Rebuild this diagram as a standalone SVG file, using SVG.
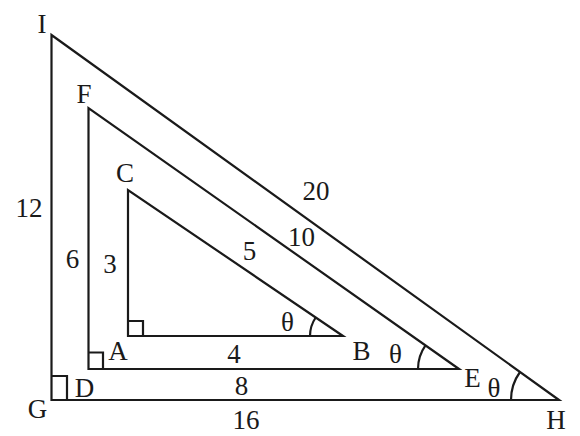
<svg xmlns="http://www.w3.org/2000/svg" width="580" height="436" viewBox="0 0 580 436">
<style>
.ln{fill:none;stroke:#1a1a1a;stroke-width:2.2;stroke-linejoin:miter}
.t{font-family:"Liberation Serif","Times New Roman",serif;font-size:27px;fill:#1a1a1a;text-anchor:middle}
</style>
<rect width="580" height="436" fill="#fff"/>
<g id="triangle-IGH">
<polygon class="ln" points="51.5,35 51.5,400 559,400"/>
<polyline class="ln" points="51.5,376 67,376 67,400"/>
<path class="ln" d="M511,400 A48,48 0 0 1 520,372"/>
<text class="t" x="42" y="33">I</text>
<text class="t" x="37.5" y="418">G</text>
<text class="t" x="556" y="429">H</text>
<text class="t" x="246" y="429">16</text>
<text class="t" x="29" y="217">12</text>
<text class="t" x="316" y="200">20</text>
<text class="t" x="494" y="397">θ</text>
</g>
<g id="triangle-FDE">
<polygon class="ln" points="88.5,108 88.5,369 459,369"/>
<polyline class="ln" points="88.5,352.5 103,352.5 103,369"/>
<path class="ln" d="M418,369 A41,41 0 0 1 425.5,345.4"/>
<text class="t" x="84" y="103">F</text>
<text class="t" x="84.5" y="397">D</text>
<text class="t" x="472.5" y="387">E</text>
<text class="t" x="72.5" y="268">6</text>
<text class="t" x="241.5" y="395">8</text>
<text class="t" x="301.5" y="246">10</text>
<text class="t" x="395.5" y="363">θ</text>
</g>
<g id="triangle-CAB">
<polygon class="ln" points="128,190 128,336 343,336"/>
<polyline class="ln" points="128,321 143,321 143,336"/>
<path class="ln" d="M310,336 A33,33 0 0 1 315.7,317.5"/>
<text class="t" x="125" y="182">C</text>
<text class="t" x="118" y="360">A</text>
<text class="t" x="361.5" y="360">B</text>
<text class="t" x="110" y="273">3</text>
<text class="t" x="234" y="363">4</text>
<text class="t" x="249.5" y="260">5</text>
<text class="t" x="287.5" y="331">θ</text>
</g>
<g id="connectors"></g>
</svg>
